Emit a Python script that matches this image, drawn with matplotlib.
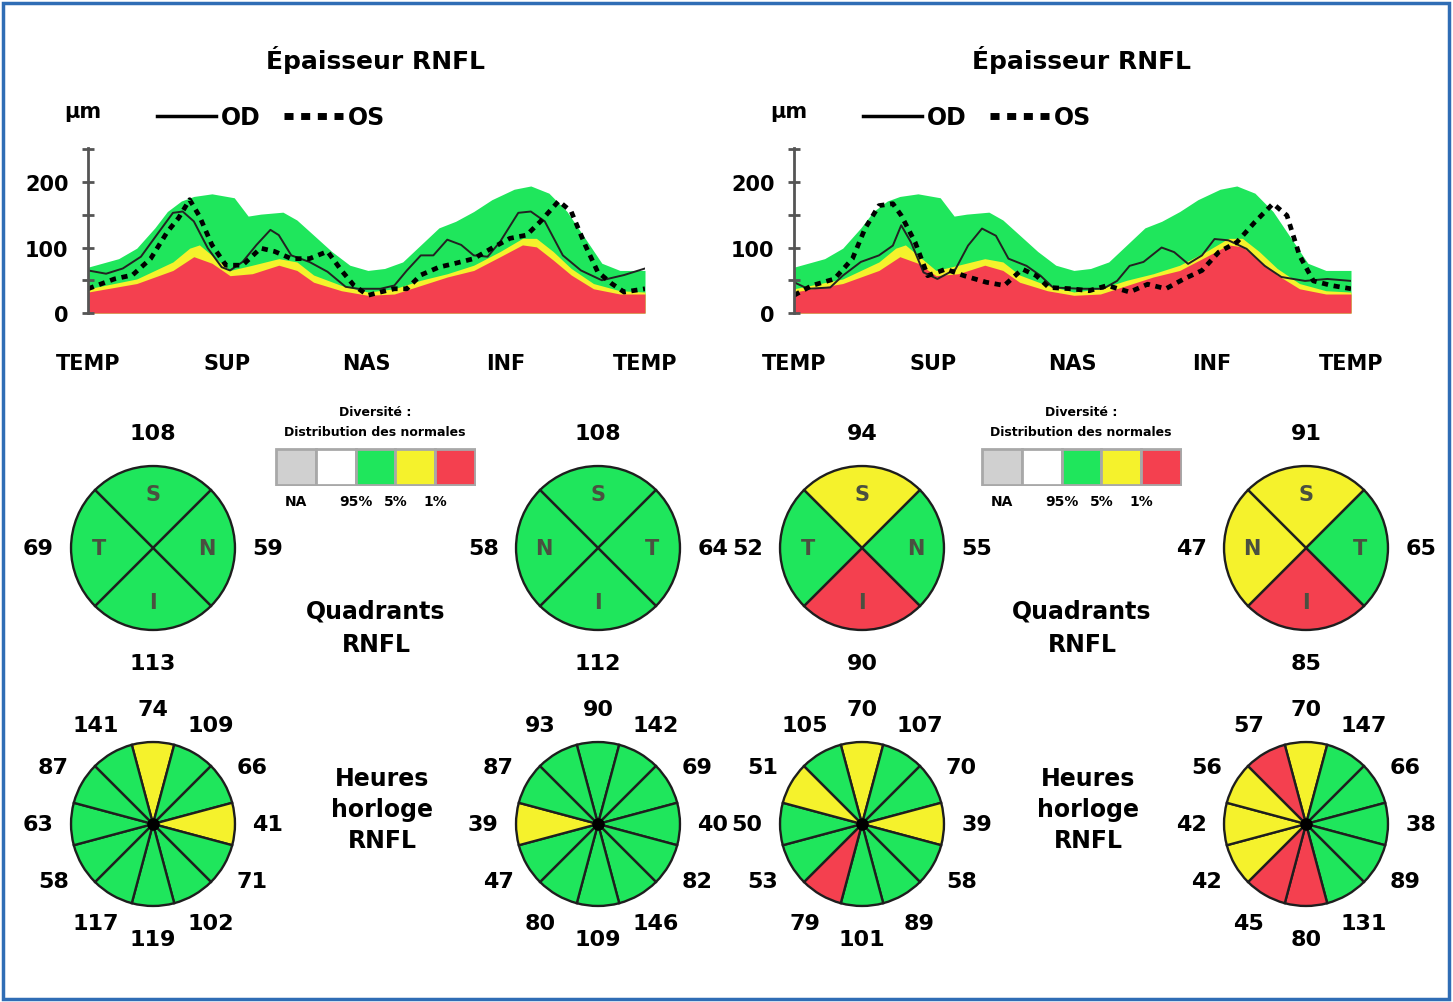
import matplotlib
matplotlib.use("Agg")
import matplotlib.pyplot as plt
from matplotlib.patches import Rectangle
from matplotlib.lines import Line2D
import numpy as np

W, H = 1453, 1003

VERT = '#1fe65c'
JAUNE = '#f5f22c'
ROUGE = '#f4404f'
GRIS = '#d0d0d0'
COULEURS = {'g': VERT, 'y': JAUNE, 'r': ROUGE}
POLICE = 'DejaVu Sans'

SECTEURS = ['TEMP', 'SUP', 'NAS', 'INF', 'TEMP']

# bandes normatives (limites 95%, 5%, 1%)
x_95 = [0, 0.22, 0.35, 0.48, 0.57, 0.67, 0.76, 0.89, 1.05, 1.15, 1.24, 1.40, 1.50, 1.62, 1.75, 1.88,
        2.01, 2.13, 2.26, 2.39, 2.52, 2.64, 2.77, 2.90, 3.06, 3.18, 3.31, 3.44, 3.57, 3.69, 3.82, 4.0]
y_95 = [70, 83, 99, 130, 155, 171, 178, 182, 176, 148, 151, 154, 142, 119, 94, 73,
        65, 68, 78, 104, 130, 140, 155, 173, 189, 194, 183, 155, 114, 76, 65, 65]
x_5 = [0, 0.35, 0.61, 0.73, 0.80, 0.89, 1.02, 1.18, 1.37, 1.50, 1.62, 1.82, 2.01, 2.20, 2.39, 2.58,
       2.77, 2.96, 3.12, 3.22, 3.34, 3.47, 3.63, 3.82, 4.0]
y_5 = [37, 52, 78, 99, 104, 88, 65, 73, 83, 78, 58, 42, 32, 37, 50, 60,
       73, 94, 114, 114, 94, 68, 45, 34, 32]
x_1 = [0, 0.35, 0.61, 0.76, 0.89, 1.02, 1.18, 1.37, 1.50, 1.62, 1.82, 2.01, 2.20, 2.39, 2.58,
       2.77, 2.96, 3.12, 3.22, 3.34, 3.47, 3.63, 3.82, 4.0]
y_1 = [32, 45, 65, 86, 76, 57, 60, 73, 65, 47, 34, 27, 29, 42, 55,
       65, 86, 104, 101, 81, 58, 37, 29, 29]

# profils gauche
x_od_g = [0, 0.13, 0.25, 0.38, 0.51, 0.61, 0.68, 0.76, 0.86, 0.96, 1.02, 1.11, 1.21, 1.31, 1.37, 1.46,
          1.59, 1.72, 1.85, 1.94, 2.10, 2.20, 2.29, 2.39, 2.48, 2.58, 2.68, 2.77, 2.87, 2.96, 3.09,
          3.18, 3.28, 3.41, 3.54, 3.69, 3.85, 4.0]
y_od_g = [65, 60, 68, 86, 124, 153, 155, 140, 99, 70, 65, 78, 104, 127, 119, 88,
          78, 63, 40, 37, 37, 42, 65, 88, 88, 112, 104, 88, 86, 109, 153,
          155, 140, 88, 65, 50, 58, 68]
x_os_g = [0, 0.19, 0.32, 0.45, 0.57, 0.65, 0.73, 0.80, 0.89, 0.99, 1.11, 1.24, 1.34, 1.46, 1.59, 1.72,
          1.82, 1.91, 2.01, 2.10, 2.20, 2.29, 2.39, 2.52, 2.64, 2.77, 2.90, 3.03, 3.15, 3.25, 3.38,
          3.47, 3.57, 3.66, 3.76, 3.85, 4.0]
y_os_g = [37, 52, 58, 83, 124, 145, 173, 148, 104, 73, 73, 99, 94, 83, 83, 94,
          65, 42, 27, 32, 37, 37, 58, 70, 76, 83, 99, 114, 119, 140, 171,
          155, 104, 63, 45, 32, 37]

# profils droite
x_od_d = [0, 0.10, 0.26, 0.35, 0.48, 0.61, 0.71, 0.77, 0.84, 0.93, 1.03, 1.16, 1.25, 1.35, 1.45, 1.54,
          1.67, 1.77, 1.86, 2.06, 2.22, 2.32, 2.41, 2.51, 2.64, 2.73, 2.83, 2.93, 3.02, 3.12,
          3.25, 3.38, 3.50, 3.67, 3.83, 4.0]
y_od_d = [47, 37, 39, 57, 78, 88, 103, 134, 108, 62, 52, 67, 103, 129, 118, 83,
          72, 57, 39, 37, 37, 49, 72, 78, 100, 93, 75, 88, 113, 111,
          98, 72, 55, 49, 52, 49]
x_os_d = [0, 0.13, 0.29, 0.42, 0.51, 0.61, 0.71, 0.77, 0.87, 0.96, 1.09, 1.22, 1.38, 1.51, 1.64, 1.74,
          1.83, 1.99, 2.12, 2.25, 2.41, 2.54, 2.67, 2.80, 2.93, 3.05, 3.18, 3.31, 3.44, 3.54,
          3.63, 3.73, 3.86, 4.0]
y_os_d = [27, 42, 52, 83, 129, 164, 167, 149, 108, 57, 67, 57, 47, 42, 67, 57,
          39, 37, 34, 42, 32, 44, 37, 52, 65, 93, 108, 139, 167, 149,
          88, 49, 42, 37]

# quadrants : haut, droite, bas, gauche
quad_val = [[108, 59, 113, 69], [108, 64, 112, 58], [94, 55, 90, 52], [91, 65, 85, 47]]
quad_lettres = [['S', 'N', 'I', 'T'], ['S', 'T', 'I', 'N'], ['S', 'N', 'I', 'T'], ['S', 'T', 'I', 'N']]
quad_etat = [['g', 'g', 'g', 'g'], ['g', 'g', 'g', 'g'], ['y', 'g', 'r', 'g'], ['y', 'g', 'r', 'y']]

# heures horloge : 12, 1, 2 ... 11
horl_val = [[74, 109, 66, 41, 71, 102, 119, 117, 58, 63, 87, 141],
            [90, 142, 69, 40, 82, 146, 109, 80, 47, 39, 87, 93],
            [70, 107, 70, 39, 58, 89, 101, 79, 53, 50, 51, 105],
            [70, 147, 66, 38, 89, 131, 80, 45, 42, 42, 56, 57]]
horl_etat = [['y', 'g', 'g', 'y', 'g', 'g', 'g', 'g', 'g', 'g', 'g', 'g'],
             ['g', 'g', 'g', 'g', 'g', 'g', 'g', 'g', 'g', 'y', 'g', 'g'],
             ['y', 'g', 'g', 'y', 'g', 'g', 'g', 'r', 'g', 'g', 'y', 'g'],
             ['y', 'g', 'g', 'g', 'g', 'g', 'r', 'r', 'y', 'y', 'y', 'r']]

leg_couleurs = [GRIS, 'white', VERT, JAUNE, ROUGE]
leg_textes = ['NA', '95%', '5%', '1%']
leg_pos = [0, 1.5, 2.5, 3.5]

fig = plt.figure(figsize=(W / 100, H / 100), dpi=100)


def axes_px(x0, y0, w, h):
    return fig.add_axes([x0 / W, 1 - (y0 + h) / H, w / W, h / H])


def graphe_epaisseur(x0, xod, yod, xos, yos):
    ax = axes_px(x0, 149, 557, 165)
    ax.patch.set_alpha(0)
    ax.fill_between(x_95, 0, y_95, color=VERT, lw=0)
    ax.fill_between(x_5, 0, y_5, color=JAUNE, lw=0)
    ax.fill_between(x_1, 0, y_1, color=ROUGE, lw=0)
    ax.plot(xod, yod, color='#222222', lw=1.4)
    ax.plot(xos, yos, color='black', lw=3.4, ls=(0, (1.3, 1.2)))
    ax.set_xlim(0, 4)
    ax.set_ylim(0, 252)
    for s in ['top', 'right', 'bottom']:
        ax.spines[s].set_visible(False)
    ax.spines['left'].set_color('#555555')
    ax.spines['left'].set_linewidth(2)
    ax.set_yticks([0, 50, 100, 150, 200, 250])
    ax.set_yticklabels(['0', '', '100', '', '200', ''])
    ax.tick_params(axis='y', direction='inout', length=8, width=2, color='#555555',
                   labelsize=15, pad=10)
    ax.set_xticks(range(5))
    ax.set_xticklabels(SECTEURS)
    ax.tick_params(axis='x', length=0, pad=29, labelsize=15)
    for t in ax.get_xticklabels() + ax.get_yticklabels():
        t.set_weight('bold')
    return ax


def cadran(cx, cy, valeurs, etats, depart, lettres=None):
    ax = axes_px(cx - 150, cy - 150, 300, 300)
    n = len(valeurs)
    parts, textes = ax.pie(np.ones(n), colors=[COULEURS[e] for e in etats], startangle=depart,
                           counterclock=False, labels=[str(v) for v in valeurs],
                           labeldistance=1.4,
                           wedgeprops=dict(edgecolor='#1e1e1e', linewidth=1.7),
                           textprops=dict(fontsize=16, fontweight='bold', family=POLICE))
    for t in textes:
        t.set_ha('center')
        t.set_va('center')
    if lettres:
        for p, l in zip(parts, lettres):
            a = np.deg2rad((p.theta1 + p.theta2) / 2)
            ax.text(0.66 * np.cos(a), 0.66 * np.sin(a), l, ha='center', va='center',
                    fontsize=15, fontweight='bold', color='#4a5040', family=POLICE)
    else:
        ax.plot([0], [0], 'o', color='black', ms=8)
    ax.set_xlim(-1.83, 1.83)
    ax.set_ylim(-1.83, 1.83)
    ax.set_aspect('equal')
    ax.axis('off')


def legende_normes(x0):
    fig.text((x0 + 100) / W, 1 - 413 / H, 'Diversité :', ha='center', va='center',
             fontsize=9, fontweight='bold')
    fig.text((x0 + 100) / W, 1 - 433 / H, 'Distribution des normales', ha='center', va='center',
             fontsize=9, fontweight='bold')
    ax = axes_px(x0, 449, 201, 38)
    ax.bar(range(5), np.ones(5), width=1, color=leg_couleurs, edgecolor='#a8a8a8', lw=2)
    ax.set_xlim(-0.52, 4.52)
    ax.set_ylim(-0.03, 1.03)
    for p, t in zip(leg_pos, leg_textes):
        ax.text(p, -0.45, t, ha='center', va='center', fontsize=10, fontweight='bold')
    ax.axis('off')


for x0, dx, xod, yod, xos, yos in [(88, 0, x_od_g, y_od_g, x_os_g, y_os_g),
                                   (794, 706, x_od_d, y_od_d, x_os_d, y_os_d)]:
    graphe_epaisseur(x0, xod, yod, xos, yos)
    fig.text((375 + dx) / W, 1 - 60 / H, 'Épaisseur RNFL', ha='center', va='center',
             fontsize=18, fontweight='bold')
    fig.text((83 + dx) / W, 1 - 112 / H, 'µm', ha='center', va='center', fontsize=15,
             fontweight='bold')
    poignees = [Line2D([], [], color='black', lw=2.5),
                Line2D([], [], color='black', lw=5, ls=(0, (1.3, 1.1)))]
    fig.legend(poignees, ['OD', 'OS'], loc='center left', bbox_to_anchor=((157 + dx) / W, 1 - 118 / H),
               ncol=2, frameon=False, handlelength=2.5, handletextpad=0.2, columnspacing=1.0,
               borderpad=0, borderaxespad=0, prop=dict(family=POLICE, size=17, weight='bold'))
    legende_normes(275 + dx)
    fig.text((376 + dx) / W, 1 - 628 / H, 'Quadrants\nRNFL', ha='center', va='center',
             fontsize=17, fontweight='bold', linespacing=1.5)
    fig.text((382 + dx) / W, 1 - 810 / H, 'Heures\nhorloge\nRNFL', ha='center', va='center',
             fontsize=17, fontweight='bold', linespacing=1.35)

centres_x = [153, 598, 862, 1306]
for i, cx in enumerate(centres_x):
    cadran(cx, 549, quad_val[i], quad_etat[i], 135, quad_lettres[i])
    cadran(cx, 825, horl_val[i], horl_etat[i], 105)

fig.add_artist(Rectangle((3 / W, 3 / H), 1446 / W, 996 / H, transform=fig.transFigure,
                         fill=False, edgecolor='#2f6db5', lw=2.5))

fig.savefig('out.png', dpi=100)
